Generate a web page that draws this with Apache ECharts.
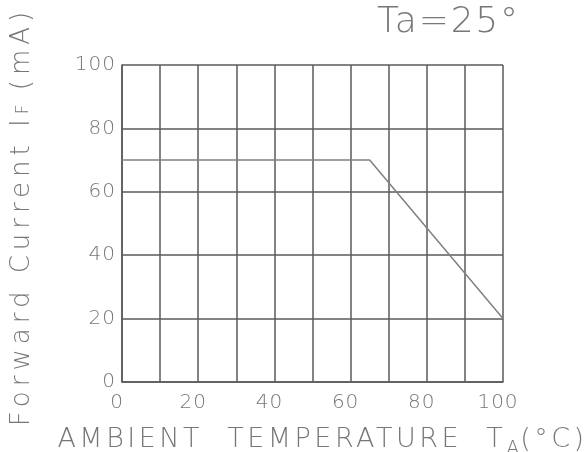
<!DOCTYPE html>
<html>
<head>
<meta charset="utf-8">
<script src="https://cdn.jsdelivr.net/npm/echarts@6/dist/echarts.min.js"></script>
<style>
html,body{margin:0;padding:0;background:#fff;}
#c{width:586px;height:452px;}
</style>
</head>
<body>
<div id="c"></div>
<script>
// ---- data ----
const temperature = [0, 65, 100];       // °C
const forwardCurrent = [70, 70, 20];    // mA
const xTickLabels = [0, 20, 40, 60, 80, 100];
const yTickLabels = [0, 20, 40, 60, 80, 100];
const titleText = 'Ta=25°';

// letter spacing for the wide plotter-style lettering (by font size)
const spacingBySize = { '36': '1.8px', '27': '3.5px', '26': '5px', '19': '1px', '17': '1px', '20': '1px' };
(function () {
  const P = CanvasRenderingContext2D.prototype;
  function apply(ctx) {
    const m = /(\d+(?:\.\d+)?)px/.exec(ctx.font || '');
    const s = m ? spacingBySize[String(Math.round(parseFloat(m[1])))] : null;
    try { ctx.letterSpacing = s || '0px'; } catch (e) {}
  }
  ['fillText', 'strokeText', 'measureText'].forEach(function (fn) {
    const orig = P[fn];
    P[fn] = function () { apply(this); return orig.apply(this, arguments); };
  });
})();

const FONT = 'DejaVu Sans';
const TXT = '#777777';
const LINE = '#5a5a5a';

const chart = echarts.init(document.getElementById('c'), null, { renderer: 'canvas' });
chart.setOption({
  backgroundColor: '#fff',
  animation: false,
  title: {
    text: titleText,
    left: 377, top: 4, padding: 0,
    textStyle: { fontFamily: FONT, fontWeight: 200, fontSize: 36, color: TXT }
  },
  grid: { left: 122, right: 83, top: 65, bottom: 70, containLabel: false, outerBoundsMode: 'none' },
  xAxis: {
    type: 'value', min: 0, max: 100, interval: 10,
    name: '{n|AMBIENT  TEMPERATURE  T}{sub|A}{n|(°C)}',
    nameLocation: 'middle', nameGap: 43,
    nameTextStyle: {
      fontFamily: FONT, fontWeight: 200, fontSize: 27, color: TXT, padding: [0, 0, 0, 20],
      rich: {
        n: { fontFamily: FONT, fontWeight: 200, fontSize: 27, color: TXT, lineHeight: 28, verticalAlign: 'top' },
        sub: { fontFamily: FONT, fontWeight: 200, fontSize: 19, color: TXT, lineHeight: 19, padding: [14, 0, 0, 0], verticalAlign: 'top' }
      }
    },
    axisLine: { show: true, lineStyle: { color: LINE, width: 1.5 } },
    axisTick: { show: false },
    splitLine: { show: true, lineStyle: { color: LINE, width: 1.5 } },
    axisLabel: {
      margin: 10, fontFamily: FONT, fontWeight: 200, fontSize: 20, color: TXT,
      padding: [0, 10, 0, 0],
      formatter: function (v) { return xTickLabels.indexOf(v) >= 0 ? String(v) : ''; }
    }
  },
  yAxis: {
    type: 'value', min: 0, max: 100, interval: 20,
    name: '{n|Forward Current I}{sub|F}{n| (mA)}',
    nameLocation: 'middle', nameRotate: 90, nameGap: 88,
    nameTextStyle: {
      fontFamily: FONT, fontWeight: 200, fontSize: 26, color: TXT, padding: [0, 0, 0, 14],
      rich: {
        n: { fontFamily: FONT, fontWeight: 200, fontSize: 26, color: TXT, lineHeight: 27, verticalAlign: 'top' },
        sub: { fontFamily: FONT, fontWeight: 200, fontSize: 17, color: TXT, lineHeight: 17, padding: [8, 0, 0, 0], verticalAlign: 'top' }
      }
    },
    axisLine: { show: true, lineStyle: { color: LINE, width: 1.5 } },
    axisTick: { show: false },
    splitLine: { show: true, lineStyle: { color: LINE, width: 1.5 } },
    axisLabel: {
      margin: 6, fontFamily: FONT, fontWeight: 200, fontSize: 20, color: TXT,
      formatter: function (v) { return yTickLabels.indexOf(v) >= 0 ? String(v) : ''; }
    }
  },
  series: [{
    type: 'line',
    data: temperature.map(function (t, i) { return [t, forwardCurrent[i]]; }),
    symbol: 'none',
    lineStyle: { color: '#808080', width: 1.5 }
  }]
});
</script>
</body>
</html>
